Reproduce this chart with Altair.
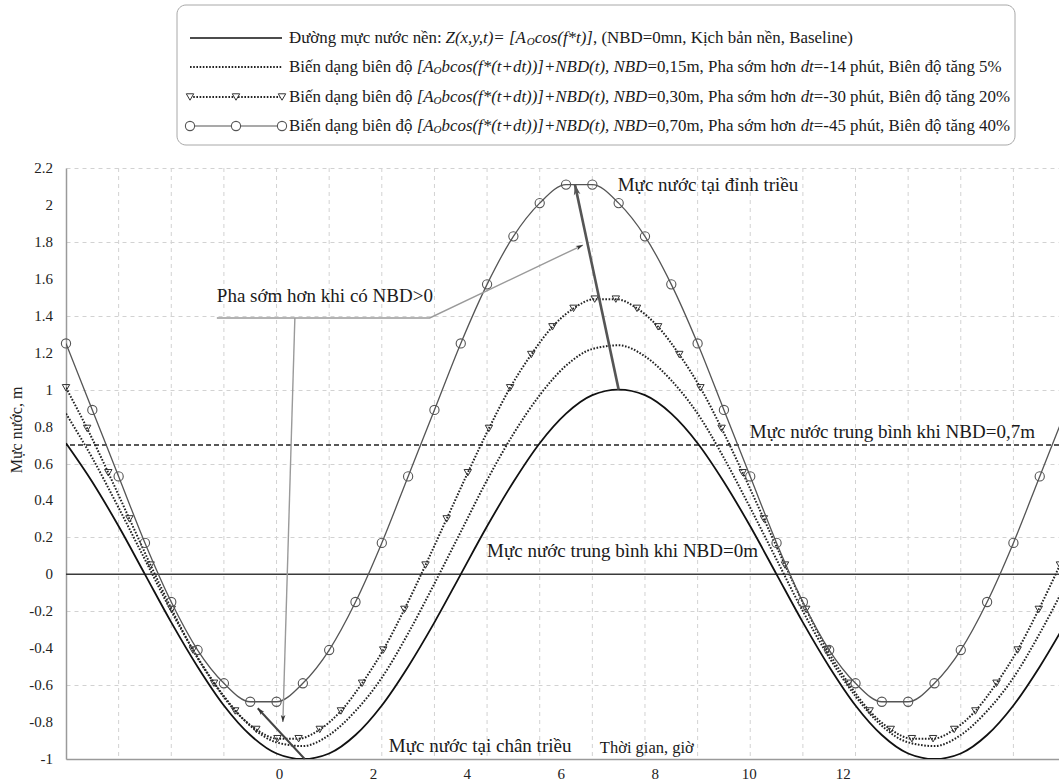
import math
import unicodedata
import altair as alt
import pandas as pd

# ---------------- data ----------------
# common time grid (hours) of the circle-marker series
t_main = [-4.53, -3.97, -3.41, -2.85, -2.29, -1.73, -1.17, -0.61, -0.05, 0.51,
          1.07, 1.63, 2.19, 2.75, 3.31, 3.87, 4.43, 4.99, 5.55, 6.11,
          6.67, 7.23, 7.79, 8.35, 8.91, 9.47, 10.03, 10.59, 11.15, 11.71,
          12.27, 12.83, 13.39, 13.95, 14.51, 15.07, 15.63, 16.19, 16.75]
baseline = [0.71, 0.50, 0.26, 0.00, -0.26, -0.50, -0.71, -0.87, -0.97, -1.00,
            -0.97, -0.87, -0.71, -0.50, -0.26, 0.00, 0.26, 0.50, 0.71, 0.87,
            0.97, 1.00, 0.97, 0.87, 0.71, 0.50, 0.26, 0.00, -0.26, -0.50,
            -0.71, -0.87, -0.97, -1.00, -0.97, -0.87, -0.71, -0.50, -0.26]
nbd_015 = [0.87, 0.63, 0.36, 0.08, -0.20, -0.45, -0.66, -0.82, -0.91, -0.93,
           -0.87, -0.74, -0.56, -0.32, -0.05, 0.23, 0.51, 0.76, 0.97, 1.13,
           1.22, 1.24, 1.18, 1.05, 0.87, 0.63, 0.36, 0.08, -0.20, -0.45,
           -0.66, -0.82, -0.91, -0.93, -0.87, -0.74, -0.56, -0.32, -0.05]
nbd_070 = [1.25, 0.89, 0.53, 0.17, -0.15, -0.41, -0.59, -0.69, -0.69, -0.59,
           -0.41, -0.15, 0.17, 0.53, 0.89, 1.25, 1.57, 1.83, 2.01, 2.11,
           2.11, 2.01, 1.83, 1.57, 1.25, 0.89, 0.53, 0.17, -0.15, -0.41,
           -0.59, -0.69, -0.69, -0.59, -0.41, -0.15, 0.17, 0.53, 0.89]
# triangle-marker series has its own time grid
t_tri = [-4.53, -4.08, -3.63, -3.18, -2.73, -2.28, -1.83, -1.38, -0.93, -0.48,
         -0.03, 0.42, 0.87, 1.32, 1.77, 2.22, 2.67, 3.12, 3.57, 4.02,
         4.47, 4.92, 5.37, 5.82, 6.27, 6.72, 7.17, 7.62, 8.07, 8.52,
         8.97, 9.42, 9.87, 10.32, 10.77, 11.22, 11.67, 12.12, 12.57, 13.02,
         13.47, 13.92, 14.37, 14.82, 15.27, 15.72, 16.17, 16.62]
nbd_030 = [1.01, 0.79, 0.55, 0.30, 0.05, -0.19, -0.41, -0.59, -0.74, -0.84,
           -0.89, -0.89, -0.84, -0.74, -0.59, -0.41, -0.19, 0.05, 0.30, 0.55,
           0.79, 1.01, 1.19, 1.34, 1.44, 1.49, 1.49, 1.44, 1.34, 1.19,
           1.01, 0.79, 0.55, 0.30, 0.05, -0.19, -0.41, -0.59, -0.74, -0.84,
           -0.89, -0.89, -0.84, -0.74, -0.59, -0.41, -0.19, 0.05]
grid_t = [-3.41, -2.29, -1.17, -0.05, 1.07, 2.19, 3.31, 4.43, 5.55, 6.67,
          7.79, 8.91, 10.03, 11.15, 12.27, 13.39, 14.51, 15.63]
y_ticks = [-1.0, -0.8, -0.6, -0.4, -0.2, 0.0, 0.2, 0.4, 0.6, 0.8, 1.0,
           1.2, 1.4, 1.6, 1.8, 2.0, 2.2]
x_labels = [0, 2, 4, 6, 8, 10, 12]
ref_zero = [0.0]
ref_mean = [0.7]

legend_rows = [
    [("Đường mực nước nền: ", "n"), ("Z(x,y,t)= [A", "i"), ("O", "s"),
     ("cos(f*t)]", "i"), (", (NBD=0mn, Kịch bản nền, Baseline)", "n")],
    [("Biến dạng biên độ ", "n"), ("[A", "i"), ("O", "s"),
     ("bcos(f*(t+dt))]+NBD(t), NBD", "i"), ("=0,15m, Pha sớm hơn ", "n"),
     ("dt", "i"), ("=-14 phút, Biên độ tăng 5%", "n")],
    [("Biến dạng biên độ ", "n"), ("[A", "i"), ("O", "s"),
     ("bcos(f*(t+dt))]+NBD(t), NBD", "i"), ("=0,30m, Pha sớm hơn ", "n"),
     ("dt", "i"), ("=-30 phút, Biên độ tăng 20%", "n")],
    [("Biến dạng biên độ ", "n"), ("[A", "i"), ("O", "s"),
     ("bcos(f*(t+dt))]+NBD(t), NBD", "i"), ("=0,70m, Pha sớm hơn ", "n"),
     ("dt", "i"), ("=-45 phút, Biên độ tăng 40%", "n")],
]

# ---------------- layout ----------------
SERIF = "Liberation Serif"
W, H = 993, 591
LEFT, TOP = 66, 168
X_DOMAIN = [-4.53, 16.6]
Y_DOMAIN = [-1.0, 2.2]
PX_X = W / (X_DOMAIN[1] - X_DOMAIN[0])
PX_Y = H / (Y_DOMAIN[1] - Y_DOMAIN[0])
xs = alt.Scale(domain=X_DOMAIN, nice=False, zero=False)
ys = alt.Scale(domain=Y_DOMAIN, nice=False, zero=False)

ROMAN = {' ': 250, '!': 333, '%': 833, '(': 333, ')': 333, '*': 500, '+': 564,
         ',': 250, '-': 333, '.': 250, '/': 278, ':': 278, '=': 564, '>': 564,
         '[': 333, ']': 333, 'A': 722, 'B': 667, 'C': 667, 'D': 722, 'E': 611,
         'K': 722, 'M': 889, 'N': 722, 'O': 722, 'P': 556, 'T': 611, 'Z': 611,
         'a': 444, 'b': 500, 'c': 444, 'd': 500, 'e': 444, 'f': 333, 'g': 500,
         'h': 500, 'i': 278, 'k': 500, 'l': 278, 'm': 778, 'n': 500, 'o': 500,
         'p': 500, 'r': 333, 's': 389, 't': 278, 'u': 500, 'x': 500, 'y': 500}
ITALIC = {' ': 250, '(': 333, ')': 333, '*': 500, '+': 675, ',': 250, '=': 675,
          '[': 389, ']': 389, 'A': 611, 'B': 611, 'D': 722, 'N': 667, 'O': 722,
          'Z': 556, 'a': 500, 'b': 500, 'c': 444, 'd': 500, 'f': 278, 'o': 500,
          's': 389, 't': 278, 'x': 444, 'y': 444}


def char_w(ch, italic):
    dec = unicodedata.normalize('NFD', ch)
    base = {'Đ': 'D', 'đ': 'd'}.get(ch, dec[0])
    w = None
    if italic:
        w = ITALIC.get(base)
    if w is None:
        w = ROMAN.get(base, 500 if base.isdigit() else 480)
    if '\u031b' in dec:
        w += 30
    return w


def text_w(s, italic, size):
    return sum(char_w(c, italic) for c in s) * size / 1000.0


LEG_FS, SUB_FS, SUB_DY = 16.9, 11, 4
LEG_X0 = 289 - LEFT
LEG_ROWS_Y = [38 - TOP, 67 - TOP, 97 - TOP, 126 - TOP]
recs = []
for row, yy in zip(legend_rows, LEG_ROWS_Y):
    xx = LEG_X0
    for txt, st in row:
        fs = SUB_FS if st == 's' else LEG_FS
        recs.append({'px': xx, 'py': yy + (SUB_DY if st == 's' else 0),
                     'text': txt, 'style': st})
        xx += text_w(txt, st != 'n', fs)
seg_df = pd.DataFrame(recs)


def seg_layer(style, size, fstyle):
    return alt.Chart(seg_df[seg_df['style'] == style]).mark_text(
        align='left', baseline='middle', font=SERIF, fontSize=size,
        fontStyle=fstyle, color='#1a1a1a').encode(
        x=alt.X('px:Q', scale=None),
        y=alt.Y('py:Q', scale=None),
        text='text:N')


legend_layers = [seg_layer('n', LEG_FS, 'normal'),
                 seg_layer('i', LEG_FS, 'italic'),
                 seg_layer('s', SUB_FS, 'italic')]

one = pd.DataFrame({'k': [0]})
legend_box = alt.Chart(one).mark_rect(
    fill='white', stroke='#a8a8a8', strokeWidth=1, cornerRadius=9).encode(
    x=alt.value(177 - LEFT), x2=alt.value(1015 - LEFT),
    y=alt.value(5 - TOP), y2=alt.value(145 - TOP))

LS_X1, LS_X2 = 190 - LEFT, 282 - LEFT
leg_line1 = alt.Chart(one).mark_rule(color='#111', strokeWidth=1.6).encode(
    x=alt.value(LS_X1), x2=alt.value(LS_X2), y=alt.value(LEG_ROWS_Y[0]))
leg_line2 = alt.Chart(one).mark_rule(color='#222', strokeWidth=2, strokeDash=[1.6, 1.6]).encode(
    x=alt.value(LS_X1), x2=alt.value(LS_X2), y=alt.value(LEG_ROWS_Y[1]))
leg_line3 = alt.Chart(one).mark_rule(color='#222', strokeWidth=2, strokeDash=[1.6, 1.6]).encode(
    x=alt.value(LS_X1), x2=alt.value(LS_X2), y=alt.value(LEG_ROWS_Y[2]))
leg_line4 = alt.Chart(one).mark_rule(color='#555', strokeWidth=1.2).encode(
    x=alt.value(LS_X1), x2=alt.value(LS_X2), y=alt.value(LEG_ROWS_Y[3]))
mk_df = pd.DataFrame({'px': [LS_X1, (LS_X1 + LS_X2) / 2, LS_X2]})
leg_tri = alt.Chart(mk_df).mark_point(
    shape='triangle-down', size=55, fill='white', color='#333', strokeWidth=1, opacity=1).encode(
    x=alt.X('px:Q', scale=None), y=alt.value(LEG_ROWS_Y[2]))
leg_circ = alt.Chart(mk_df).mark_point(
    shape='circle', size=85, fill='white', color='#555', strokeWidth=1.1, opacity=1).encode(
    x=alt.X('px:Q', scale=None), y=alt.value(LEG_ROWS_Y[3]))

# ---------------- axes / grid ----------------
x_axis = alt.Axis(values=x_labels, grid=False, ticks=False, domain=True,
                  domainColor='#9a9a9a', domainWidth=1.5, labelFont=SERIF,
                  labelFontSize=15, labelColor='#222', labelPadding=7,
                  labelFlush=False, labelOverlap=False)
y_axis = alt.Axis(values=y_ticks, grid=True, gridColor='#d2d2d2',
                  gridDash=[4, 4], gridWidth=1, ticks=False, domain=True,
                  domainColor='#9a9a9a', domainWidth=1.5, labels=False)


def xenc(field='t'):
    return alt.X(f'{field}:Q', scale=xs, title=None)


def yenc(field='v'):
    return alt.Y(f'{field}:Q', scale=ys, title=None)


# carrier layer for both axes (invisible)
axis_df = pd.DataFrame({'t': [0.0, 0.0], 'v': [0.0, 0.0]})
axis_layer = alt.Chart(axis_df).mark_point(opacity=0, size=1).encode(
    x=alt.X('t:Q', scale=xs, axis=x_axis, title=None),
    y=alt.Y('v:Q', scale=ys, axis=y_axis, title=None))

# y tick labels drawn as text through the y scale
ylab_df = pd.DataFrame({'v': y_ticks, 'lab': [f"{v:g}" for v in y_ticks]})
ylabels = alt.Chart(ylab_df).mark_text(
    align='right', baseline='middle', font=SERIF, fontSize=15,
    color='#222').encode(x=alt.value(-13), y=yenc(), text='lab:N')

vgrid = alt.Chart(pd.DataFrame({'t': grid_t})).mark_rule(
    color='#d2d2d2', strokeDash=[4, 4], strokeWidth=1).encode(x=xenc())

zero_line = alt.Chart(pd.DataFrame({'v': ref_zero})).mark_rule(
    color='#3a3a3a', strokeWidth=1.6).encode(y=yenc())
mean_line = alt.Chart(pd.DataFrame({'v': ref_mean})).mark_rule(
    color='#222', strokeWidth=1.5, strokeDash=[5, 3]).encode(y=yenc())

# ---------------- curves ----------------
main_df = pd.DataFrame({'t': t_main, 'base': baseline, 'n015': nbd_015, 'n070': nbd_070})
tri_df = pd.DataFrame({'t': t_tri, 'n030': nbd_030})

base_line = alt.Chart(main_df).mark_line(
    color='#111', strokeWidth=1.8, interpolate='monotone', clip=True).encode(
    x=xenc(), y=yenc('base'))
l015 = alt.Chart(main_df).mark_line(
    color='#222', strokeWidth=2, strokeDash=[1.6, 1.6], interpolate='monotone', clip=True).encode(
    x=xenc(), y=yenc('n015'))
l030 = alt.Chart(tri_df).mark_line(
    color='#222', strokeWidth=2, strokeDash=[1.6, 1.6], interpolate='monotone', clip=True).encode(
    x=xenc(), y=yenc('n030'))
p030 = alt.Chart(tri_df).mark_point(
    shape='triangle-down', size=55, filled=False, color='#333', strokeWidth=1, opacity=1).encode(
    x=xenc(), y=yenc('n030'))
l070 = alt.Chart(main_df).mark_line(
    color='#555', strokeWidth=1.3, interpolate='monotone', clip=True).encode(
    x=xenc(), y=yenc('n070'))
p070 = alt.Chart(main_df).mark_point(
    shape='circle', size=85, filled=False, color='#555', strokeWidth=1.1, opacity=1).encode(
    x=xenc(), y=yenc('n070'))

# ---------------- annotations ----------------
paths = [
    ('peak', [(7.23, 1.0), (6.30, 2.11)], '#555', 2.6),
    ('low', [(0.55, -1.0), (-0.45, -0.725)], '#444', 2.0),
    ('call', [(-1.32, 1.388), (3.21, 1.388), (6.47, 1.783)], '#9a9a9a', 1.4),
    ('down', [(0.34, 1.388), (0.085, -0.80)], '#9a9a9a', 1.4),
]
arrow_layers = []
HEAD = "M0,0L0.55,1.7L0,1.25L-0.55,1.7Z"
for name, pts, col, sw in paths:
    pdf = pd.DataFrame({'t': [p[0] for p in pts], 'v': [p[1] for p in pts],
                        'o': list(range(len(pts)))})
    arrow_layers.append(alt.Chart(pdf).mark_line(color=col, strokeWidth=sw).encode(
        x=xenc(), y=yenc(), order='o:Q'))
    (t1, v1), (t2, v2) = pts[-2], pts[-1]
    dx = (t2 - t1) * PX_X
    dy = -(v2 - v1) * PX_Y
    ang = math.degrees(math.atan2(dx, -dy)) % 360
    head_col = '#555' if name == 'peak' else '#333'
    hsize = 150 if name == 'peak' else 70
    hdf = pd.DataFrame({'t': [t2], 'v': [v2]})
    arrow_layers.append(alt.Chart(hdf).mark_point(
        shape=HEAD, size=hsize, angle=round(ang, 2), filled=True,
        color=head_col, opacity=1).encode(x=xenc(), y=yenc()))

notes = [
    ("Mực nước tại đỉnh triều", 7.21, 2.106, 19),
    ("Pha sớm hơn khi có NBD>0", -1.32, 1.505, 19),
    ("Mực nước trung bình khi NBD=0,7m", 10.02, 0.769, 19),
    ("Mực nước trung bình khi NBD=0m", 4.43, 0.125, 19),
    ("Mực nước tại chân triều", 2.34, -0.93, 19),
    ("Thời gian, giờ", 6.83, -0.942, 16.5),
]
note_layers = []
for txt, tt, vv, fs in notes:
    ndf = pd.DataFrame({'t': [tt], 'v': [vv], 'text': [txt]})
    note_layers.append(alt.Chart(ndf).mark_text(
        align='left', baseline='middle', font=SERIF, fontSize=fs,
        color='#1a1a1a').encode(x=xenc(), y=yenc(), text='text:N'))

y_title = alt.Chart(one).mark_text(
    text='Mực nước, m', angle=270, font=SERIF, fontSize=16, color='#222',
    align='center', baseline='middle').encode(
    x=alt.value(17 - LEFT), y=alt.value(430 - TOP))

chart = alt.layer(
    axis_layer, ylabels, vgrid, zero_line, mean_line,
    base_line, l015, l030, p030, l070, p070,
    *arrow_layers, *note_layers, y_title,
    legend_box, leg_line1, leg_line2, leg_line3, leg_line4, leg_tri, leg_circ,
    *legend_layers,
).properties(
    width=W, height=H,
    autosize=alt.AutoSizeParams(type='none'),
    padding={'left': LEFT, 'top': TOP, 'right': 0, 'bottom': 782 - TOP - H},
    background='white',
).configure_view(stroke='transparent')

chart.save("out.html", embed_options={"renderer": "svg", "actions": False})
